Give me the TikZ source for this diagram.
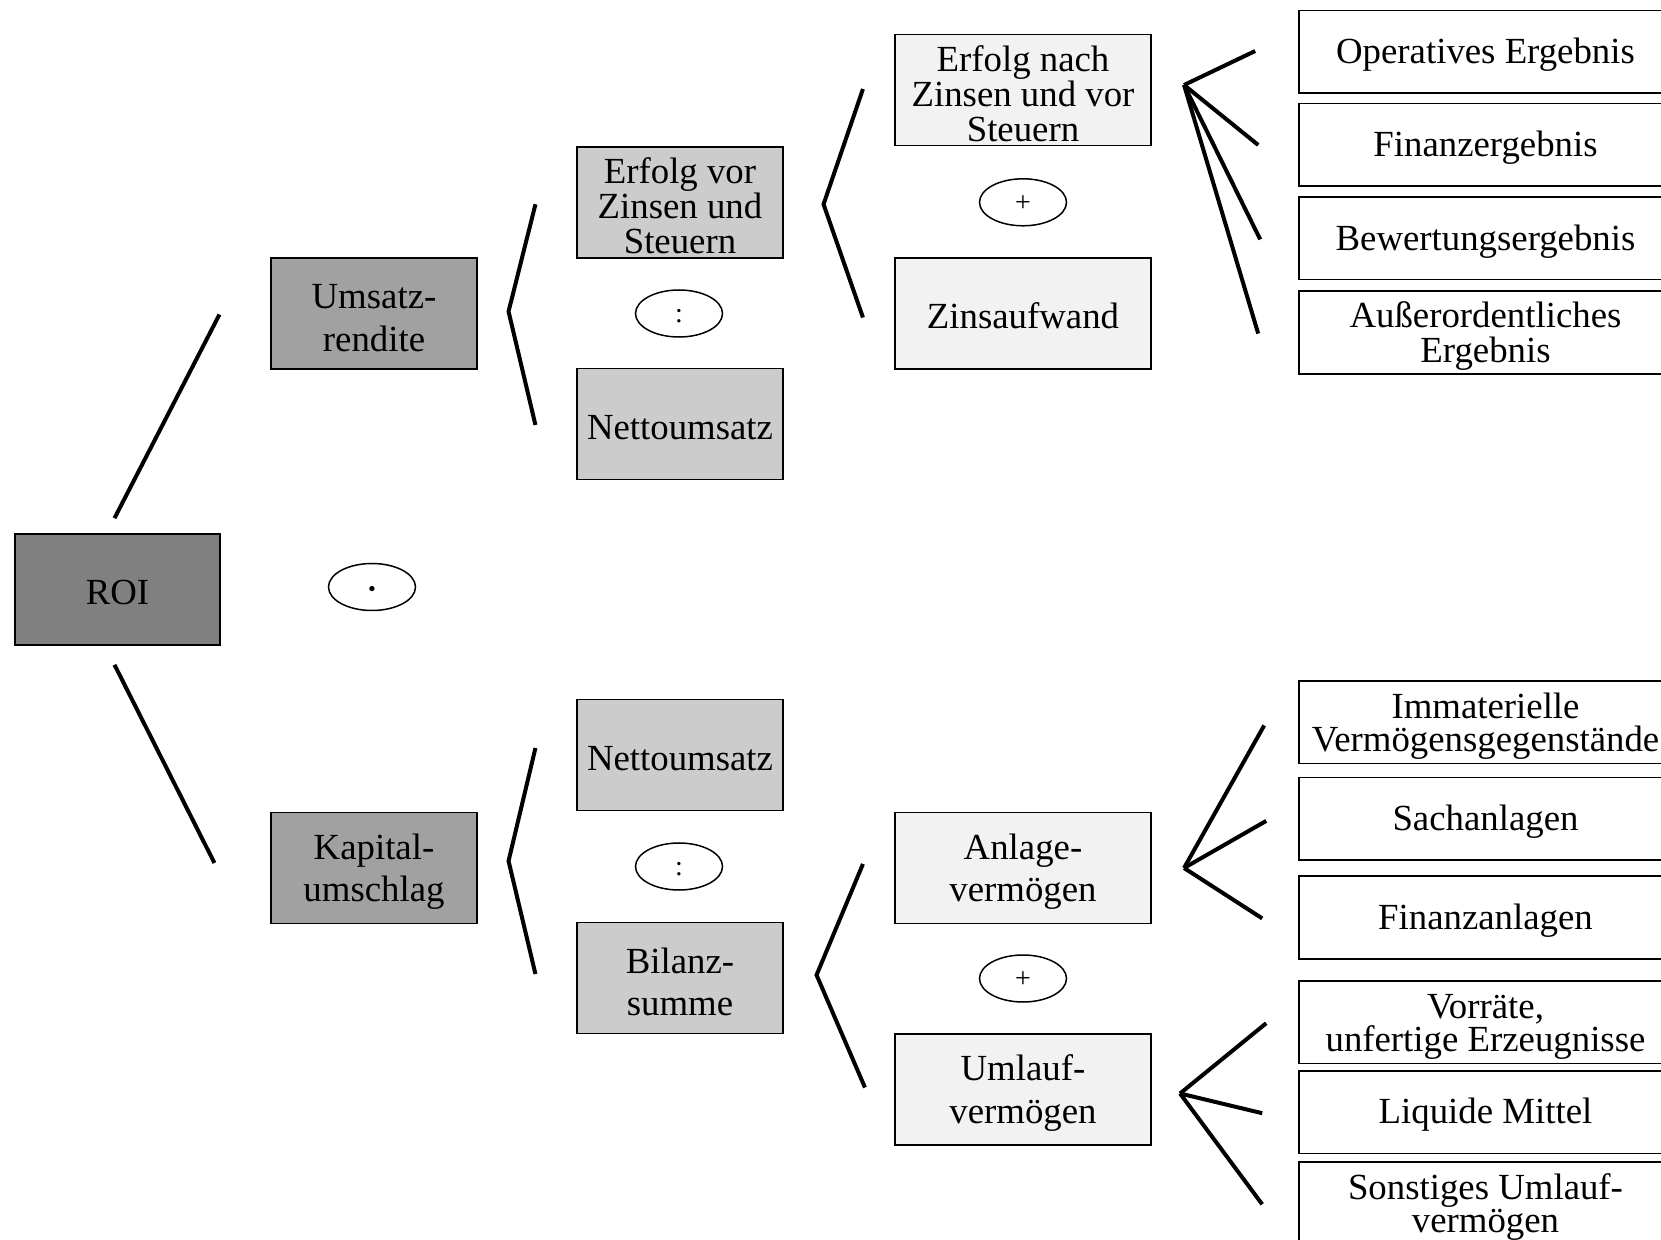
\documentclass[tikz,border=0pt]{standalone}
\usepackage{fontspec}
\setmainfont{Liberation Serif}
\usetikzlibrary{shapes.geometric,calc}
\newcommand\topstrut{\rule{0pt}{16.5pt}}
\tikzset{%
  box/.style={draw, rectangle, line width=0.8pt, inner sep=0pt, align=center,
    minimum width=102.75pt, minimum height=55.5pt,
    font=\fontsize{18.4}{17.5}\selectfont,
    execute at begin node={\rule{0pt}{15.6pt}}},
  loose/.style={font=\fontsize{18.4}{21.3}\selectfont},
  wide box/.style={box, minimum width=128.25pt},
  leaf box/.style={box, fill=white, minimum width=186.5pt, minimum height=41.3pt,
    font=\fontsize{18.4}{16.3}\selectfont},
  op/.style={draw, ellipse, line width=0.75pt, inner sep=0pt,
    minimum width=43.5pt, minimum height=23.5pt, font=\fontsize{14}{14}\selectfont,
    execute at begin node={\rule{0pt}{9pt}}},
  link/.style={line width=2pt}
}
\begin{document}
\begin{tikzpicture}[x=0.5pt, y=-0.5pt]
\useasboundingbox (0,0) rectangle (1661,1240);
\clip (0,0) rectangle (1661,1240);

% Ebene 0
\node[box, fill=black!50] (roi) at (117.5,589.5) {ROI};
\node[op, font=\fontsize{30}{30}\selectfont] (mal) at (372,587) {\rule{0pt}{14.5pt}\smash{$\cdot$}};

% Ebene 1
\node[box, loose, fill=black!37] (umsatz) at (374,313.5) {\topstrut Umsatz-\\rendite};
\node[box, loose, fill=black!37] (kapital) at (374,868) {\topstrut Kapital-\\umschlag};

% Ebene 2
\node[box, fill=black!20] (evzs) at (680,202.3) {\topstrut Erfolg vor\\Zinsen und\\Steuern};
\node[op] (div1) at (679,313.5) {:};
\node[box, fill=black!20] (netto1) at (680,424) {Nettoumsatz};
\node[box, fill=black!20] (netto2) at (680,755) {Nettoumsatz};
\node[op] (div2) at (679,866.5) {:};
\node[box, loose, fill=black!20] (bilanz) at (680,978) {\topstrut Bilanz-\\summe};

% Ebene 3
\node[wide box, fill=black!5] (enzvs) at (1023,90) {\topstrut Erfolg nach\\Zinsen und vor\\Steuern};
\node[op] (plus1) at (1023,202.3) {+};
\node[wide box, fill=black!5] (zins) at (1023,313.5) {Zinsaufwand};
\node[wide box, loose, fill=black!5] (anlage) at (1023,868) {\topstrut Anlage-\\vermögen};
\node[op] (plus2) at (1023,978.5) {+};
\node[wide box, loose, fill=black!5] (umlauf) at (1023,1089.5) {\topstrut Umlauf-\\vermögen};

% Ebene 4
\node[leaf box] (operativ) at (1485.5,52) {Operatives Ergebnis};
\node[leaf box] (finanz) at (1485.5,145) {Finanzergebnis};
\node[leaf box] (bewertung) at (1485.5,238.4) {Bewertungsergebnis};
\node[leaf box, font=\fontsize{18.4}{17.8}\selectfont] (ao) at (1485.5,332.6) {\topstrut Außerordentliches\\Ergebnis};
\node[leaf box] (immat) at (1485.5,722.4) {\topstrut Immaterielle\\Vermögensgegenstände};
\node[leaf box] (sach) at (1485.5,818.9) {Sachanlagen};
\node[leaf box] (finanzanl) at (1485.5,917.4) {Finanzanlagen};
\node[leaf box] (vorraete) at (1485.5,1022.2) {\topstrut Vorräte,\\unfertige Erzeugnisse};
\node[leaf box] (liquide) at (1485.5,1112.2) {Liquide Mittel};
\node[leaf box] (sonstige) at (1485.5,1203.3) {\topstrut Sonstiges Umlauf-\\vermögen};

% Verbindungen
\draw[link] ($(roi.north)+(-3,-15)$) -- ($(umsatz.west)+(-51,1)$);
\draw[link] ($(roi.south)+(-3,19)$) -- ($(kapital.west)+(-56,-5)$);

\draw[link] ($(evzs.west)+(-41,2)$) -- ($(umsatz.east)+(31,-2)$) -- ($(netto1.west)+(-41,1)$);
\draw[link] ($(netto2.west)+(-41,-7)$) -- ($(kapital.east)+(31,-7)$) -- ($(bilanz.west)+(-41,-4)$);
\draw[link] ($(enzvs.west)+(-31,-1)$) -- ($(evzs.east)+(40,2)$) -- ($(zins.west)+(-31,4)$);
\draw[link] ($(anlage.west)+(-31,-4)$) -- ($(bilanz.east)+(33,-3)$) -- ($(umlauf.west)+(-29,-2)$);

\coordinate (fan1) at ($(enzvs.east)+(32,-5)$);
\draw[link] (fan1) -- ($(operativ.west)+(-43,-1)$);
\draw[link] (fan1) -- ($(finanz.west)+(-40,0)$);
\draw[link] (fan1) -- ($(bewertung.west)+(-38,1)$);
\draw[link] (fan1) -- ($(ao.west)+(-40,1)$);

\coordinate (fan2) at ($(anlage.east)+(32,0)$);
\draw[link] (fan2) -- ($(immat.west)+(-34,3)$);
\draw[link] (fan2) -- ($(sach.west)+(-32,2)$);
\draw[link] (fan2) -- ($(finanzanl.west)+(-36,1)$);

\coordinate (fan3) at ($(umlauf.east)+(28,4)$);
\draw[link] (fan3) -- ($(vorraete.west)+(-32,1)$);
\draw[link] (fan3) -- ($(liquide.west)+(-36,1)$);
\draw[link] (fan3) -- ($(sonstige.west)+(-36,1)$);
\end{tikzpicture}
\end{document}
